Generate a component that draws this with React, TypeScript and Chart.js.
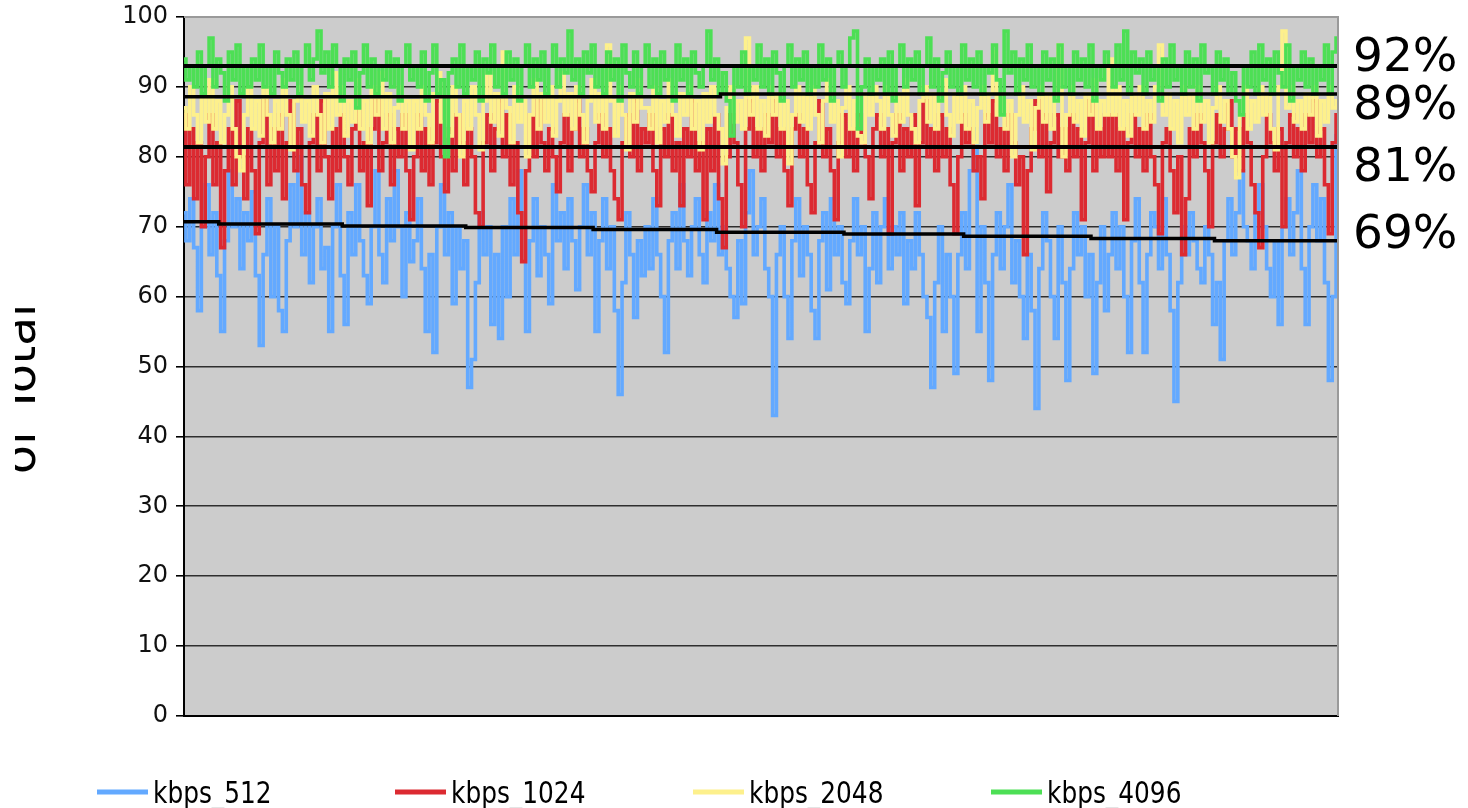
import React, { useEffect, useRef } from "react";
import { Chart, registerables } from "chart.js";

Chart.register(...registerables);

// ---- data ----
const SERIES_NAMES = ["kbps_512", "kbps_1024", "kbps_2048", "kbps_4096"];

const KBPS_512 = [
  72, 68, 74, 67, 58, 70, 76, 66, 72, 63,
  55, 68, 78, 70, 74, 64, 72, 68, 75, 63,
  53, 66, 74, 60, 70, 58, 55, 68, 76, 70,
  80, 66, 72, 62, 70, 74, 64, 67, 55, 70,
  76, 63, 56, 72, 66, 76, 68, 63, 59, 70,
  78, 66, 62, 74, 68, 78, 70, 60, 72, 65,
  68, 74, 64, 55, 66, 52, 70, 76, 66, 72,
  59, 70, 64, 68, 47, 51, 62, 72, 66, 70,
  56, 66, 54, 70, 60, 74, 66, 78, 70, 55,
  68, 74, 63, 70, 66, 59, 76, 68, 72, 64,
  74, 68, 61, 70, 76, 66, 72, 55, 68, 74,
  64, 70, 58, 46, 62, 72, 66, 57, 68, 63,
  70, 64, 74, 66, 60, 52, 68, 72, 64, 76,
  68, 63, 70, 74, 66, 62, 72, 68, 76, 66,
  70, 64, 60, 57, 68, 59, 72, 78, 66, 70,
  74, 64, 60, 43, 66, 70, 60, 54, 68, 74,
  63, 70, 66, 58, 54, 68, 72, 61, 74, 66,
  70, 62, 59, 68, 74, 66, 70, 55, 64, 72,
  62, 70, 74, 64, 70, 66, 72, 59, 68, 64,
  72, 66, 60, 57, 47, 62, 70, 55, 66, 60,
  49, 66, 72, 64, 78, 84, 55, 70, 62, 48,
  66, 72, 64, 70, 76, 62, 68, 60, 54, 66,
  58, 44, 64, 72, 68, 60, 54, 70, 62, 48,
  64, 72, 66, 70, 60, 66, 49, 62, 70, 58,
  66, 72, 64, 70, 60, 52, 68, 74, 62, 52,
  66, 72, 70, 64, 74, 66, 58, 45, 62, 70,
  66, 72, 68, 64, 62, 70, 66, 56, 62, 51,
  68, 74, 66, 72, 78, 70, 68, 64, 72, 76,
  70, 64, 60, 68, 56, 70, 74, 66, 72, 78,
  64, 56, 70, 76, 68, 74, 62, 48, 60, 83,
];

const KBPS_1024 = [
  86, 76, 84, 74, 82, 70, 80, 86, 76, 82,
  67, 78, 84, 76, 88, 80, 74, 84, 78, 69,
  82, 88, 76, 84, 78, 86, 74, 82, 88, 78,
  84, 76, 72, 82, 86, 78, 88, 80, 74, 84,
  78, 86, 80, 76, 84, 88, 78, 82, 73, 84,
  88, 78, 82, 86, 76, 84, 80, 86, 78, 71,
  80, 86, 78, 84, 76, 82, 88, 80, 75, 84,
  78, 86, 82, 76, 84, 80, 72, 70, 82, 86,
  78, 84, 88, 80, 86, 76, 82, 72, 65, 78,
  86, 80, 88, 82, 78, 84, 80, 75, 82, 86,
  78, 84, 88, 80, 84, 78, 75, 82, 86, 80,
  84, 78, 74, 71, 82, 86, 80, 88, 78, 84,
  82, 86, 78, 73, 84, 80, 86, 78, 82, 73,
  84, 80, 88, 78, 82, 71, 84, 78, 86, 74,
  67, 80, 86, 82, 76, 70, 84, 88, 80, 84,
  78, 86, 82, 88, 80, 84, 78, 73, 84, 86,
  80, 84, 76, 72, 82, 88, 80, 84, 78, 71,
  82, 86, 80, 84, 78, 86, 82, 80, 74, 84,
  86, 80, 84, 69, 82, 86, 78, 84, 80, 86,
  73, 82, 88, 80, 84, 78, 86, 80, 84, 76,
  69, 80, 86, 82, 84, 78, 80, 74, 86, 82,
  88, 80, 84, 78, 86, 82, 76, 80, 66, 78,
  84, 88, 80, 86, 75, 82, 86, 80, 84, 78,
  86, 80, 84, 71, 82, 88, 78, 84, 80, 86,
  80, 86, 78, 84, 71, 82, 86, 80, 84, 78,
  86, 80, 76, 69, 82, 84, 78, 72, 80, 66,
  74, 84, 80, 86, 82, 78, 70, 82, 86, 80,
  84, 88, 80, 84, 78, 86, 82, 76, 72, 67,
  80, 86, 82, 78, 84, 70, 82, 86, 80, 84,
  78, 86, 82, 88, 80, 84, 76, 69, 82, 86,
];

const KBPS_2048 = [
  87, 84, 90, 86, 82, 89, 85, 91, 84, 88,
  82, 86, 90, 84, 80, 78, 86, 90, 84, 88,
  83, 90, 86, 82, 88, 84, 91, 86, 81, 88,
  90, 85, 88, 83, 90, 86, 82, 89, 84, 92,
  86, 90, 83, 88, 85, 91, 84, 88, 82, 90,
  86, 92, 84, 89, 82, 87, 90, 84, 88, 81,
  88, 84, 90, 86, 82, 89, 92, 85, 88, 83,
  90, 86, 80, 88, 84, 90, 86, 81, 88, 92,
  85, 89, 83, 95, 87, 82, 90, 85, 88, 80,
  86, 91, 84, 89, 85, 90, 83, 88, 92, 86,
  89, 84, 90, 86, 82, 88, 91, 85, 89, 84,
  96, 88, 83, 90, 86, 81, 89, 85, 91, 87,
  87, 84, 90, 82, 88, 85, 91, 86, 83, 89,
  86, 90, 84, 88, 81, 89, 85, 90, 86, 84,
  79, 87, 90, 85, 88, 84, 97, 86, 90, 84,
  88, 83, 90, 86, 89, 84, 88, 79, 86, 90,
  85, 89, 84, 90, 86, 82, 88, 91, 85, 88,
  80, 87, 90, 84, 88, 83, 82, 89, 86, 90,
  88, 84, 90, 86, 83, 89, 85, 91, 86, 84,
  82, 88, 90, 85, 89, 84, 88, 91, 86, 83,
  89, 85, 90, 84, 88, 82, 87, 90, 85, 89,
  95, 86, 89, 84, 88, 80, 86, 90, 85, 88,
  81, 87, 90, 85, 89, 84, 88, 96, 80, 86,
  90, 85, 88, 83, 89, 86, 91, 84, 88, 86,
  94, 86, 90, 84, 88, 83, 89, 86, 90, 84,
  88, 85, 90, 96, 86, 89, 84, 88, 82, 90,
  86, 89, 84, 90, 85, 88, 82, 87, 90, 85,
  88, 84, 80, 77, 86, 90, 84, 88, 85, 90,
  86, 89, 84, 81, 90, 98, 87, 90, 85, 88,
  84, 89, 86, 90, 83, 88, 85, 90, 87, 88,
];

const KBPS_4096 = [
  94, 91, 93, 90, 95, 89, 93, 97, 90, 94,
  92, 88, 95, 91, 96, 89, 93, 90, 94, 91,
  96, 90, 93, 89, 95, 92, 90, 94, 91, 95,
  89, 93, 96, 91, 94, 98, 92, 95, 90, 96,
  93, 88, 94, 91, 95, 87, 92, 96, 90, 94,
  89, 93, 91, 95, 90, 94, 88, 93, 96, 91,
  93, 90, 95, 88, 92, 96, 89, 91, 80, 92,
  94, 90, 96, 89, 93, 91, 95, 88, 94, 92,
  96, 90, 93, 89, 95, 91, 94, 88, 93, 96,
  90, 94, 91, 95, 89, 93, 96, 90, 94, 92,
  98, 91, 94, 89, 95, 92, 96, 90, 93, 89,
  95, 91, 94, 88, 96, 92, 90, 95, 89, 93,
  96, 90, 94, 89, 95, 91, 93, 88, 96, 91,
  94, 89, 95, 92, 90, 93, 98, 91, 94, 89,
  92, 88, 83, 93, 90, 95, 89, 93, 91, 96,
  90, 94, 89, 95, 92, 88, 93, 96, 90, 94,
  91, 95, 89, 93, 90, 96, 91, 94, 88, 93,
  95, 90, 93, 97, 98, 84, 90, 94, 89, 93,
  91, 94, 89, 95, 88, 93, 96, 90, 94, 91,
  95, 89, 93, 97, 90, 94, 88, 92, 95, 90,
  93, 89, 96, 91, 94, 90, 95, 89, 93, 92,
  96, 91, 86, 98, 92, 95, 89, 94, 91, 96,
  90, 93, 89, 95, 91, 94, 88, 96, 90, 93,
  89, 95, 91, 94, 90, 96, 88, 93, 91, 95,
  93, 90, 96, 91, 98, 89, 95, 92, 94, 89,
  95, 91, 93, 88, 94, 90, 96, 91, 93, 89,
  95, 90, 94, 88, 96, 92, 93, 89, 95, 91,
  94, 89, 92, 88, 86, 93, 90, 95, 89, 96,
  91, 94, 89, 95, 92, 90, 96, 88, 93, 91,
  95, 90, 94, 89, 93, 91, 96, 89, 95, 97,
];

// running averages: index where each level starts, and the level
const AVG_512_START = [0, 9, 41, 73, 106, 138, 171, 202, 235, 267];
const AVG_512_VALUE = [70.7, 70.4, 70.1, 69.9, 69.6, 69.2, 68.95, 68.65, 68.3, 68.0];
const AVG_1024_START = [0];
const AVG_1024_VALUE = [81.4];
const AVG_2048_START = [0, 139];
const AVG_2048_VALUE = [88.6, 89.0];
const AVG_4096_START = [0];
const AVG_4096_VALUE = [93.0];

const SIDE_LABELS = ["92%", "89%", "81%", "69%"];
const Y_TICKS_MIN = 0;
const Y_TICKS_MAX = 100;
const Y_STEP = 10;
const Y_TITLE = "of Total";

const COLORS = ["#63a9ff", "#dc2a31", "#fdf08c", "#4ddf55"];

function toPoints(values: number[]) {
  return values.map((v, i) => ({ x: i, y: v }));
}
function avgPoints(starts: number[], values: number[], lastIndex: number) {
  const pts = starts.map((s, i) => ({ x: s, y: values[i] }));
  pts.push({ x: lastIndex, y: values[values.length - 1] });
  return pts;
}

const decorPlugin = {
  id: "decor",
  beforeDraw(chart: any) {
    const { ctx, chartArea: a } = chart;
    ctx.save();
    ctx.fillStyle = "#cccccc";
    ctx.fillRect(a.left, a.top, a.right - a.left, a.bottom - a.top);
    ctx.restore();
  },
  afterDraw(chart: any) {
    const { ctx, chartArea: a } = chart;
    ctx.save();
    // right & top frame
    ctx.strokeStyle = "#9a9a9a";
    ctx.lineWidth = 2;
    ctx.beginPath();
    ctx.moveTo(a.left, a.top);
    ctx.lineTo(a.right, a.top);
    ctx.lineTo(a.right, a.bottom);
    ctx.stroke();

    // side percentage labels
    ctx.fillStyle = "#000";
    ctx.font = "47px 'DejaVu Sans'";
    ctx.textAlign = "left";
    ctx.textBaseline = "alphabetic";
    const baselines = [71, 119, 181, 248];
    SIDE_LABELS.forEach((t, i) => ctx.fillText(t, 1353, baselines[i]));

    // y-axis title (clipped at the left, as in the reference)
    ctx.save();
    ctx.beginPath();
    ctx.rect(15, 0, 60, 808);
    ctx.clip();
    ctx.translate(35, 389);
    ctx.rotate(-Math.PI / 2);
    ctx.textAlign = "center";
    ctx.font = "47px 'DejaVu Sans'";
    ctx.fillText(Y_TITLE, 0, 0);
    ctx.restore();

    // legend at bottom
    const lx = [97, 395, 693, 991];
    SERIES_NAMES.forEach((name, i) => {
      ctx.strokeStyle = COLORS[i];
      ctx.lineWidth = 5;
      ctx.beginPath();
      ctx.moveTo(lx[i], 792);
      ctx.lineTo(lx[i] + 51, 792);
      ctx.stroke();
      ctx.save();
      ctx.translate(lx[i] + 56, 803);
      ctx.scale(0.92, 1);
      ctx.fillStyle = "#000";
      ctx.font = "30px 'DejaVu Sans Condensed', 'DejaVu Sans', sans-serif";
      ctx.textAlign = "left";
      ctx.fillText(name, 0, 0);
      ctx.restore();
    });
    ctx.restore();
  },
};

export default function App() {
  const ref = useRef<HTMLCanvasElement | null>(null);

  useEffect(() => {
    if (!ref.current) return;
    const last = KBPS_512.length - 1;
    const series = [KBPS_512, KBPS_1024, KBPS_2048, KBPS_4096];
    const drawOrder = [4, 3, 2, 1];
    const datasets: any[] = series.map((vals, i) => ({
      label: SERIES_NAMES[i],
      data: toPoints(vals),
      borderColor: COLORS[i],
      backgroundColor: COLORS[i],
      borderWidth: 3.6,
      borderCapStyle: "butt",
      borderJoinStyle: "miter",
      pointRadius: 0,
      stepped: "middle",
      order: drawOrder[i],
    }));
    const avgs = [
      [AVG_512_START, AVG_512_VALUE, 3.5],
      [AVG_1024_START, AVG_1024_VALUE, 4],
      [AVG_2048_START, AVG_2048_VALUE, 3.5],
      [AVG_4096_START, AVG_4096_VALUE, 4],
    ] as const;
    avgs.forEach(([s, v, w], i) => {
      datasets.push({
        label: "avg " + SERIES_NAMES[i],
        data: avgPoints(s as number[], v as number[], last),
        borderColor: "#000",
        borderWidth: w,
        pointRadius: 0,
        stepped: true,
        order: 0,
      });
    });

    const chart = new Chart(ref.current, {
      type: "line",
      data: { datasets },
      options: {
        animation: false,
        responsive: false,
        devicePixelRatio: 1,
        layout: { padding: { left: 0, right: 130, top: 12, bottom: 92 } },
        plugins: { legend: { display: false }, tooltip: { enabled: false } },
        scales: {
          x: {
            type: "linear",
            min: 0,
            max: last,
            ticks: { display: false },
            grid: { display: false, drawTicks: false },
            border: { display: true, color: "#000", width: 2 },
            afterFit: (s: any) => {
              s.height = 0;
            },
          },
          y: {
            min: Y_TICKS_MIN,
            max: Y_TICKS_MAX,
            ticks: {
              stepSize: Y_STEP,
              color: "#111",
              padding: 8,
              font: { family: "'DejaVu Sans'", size: 24, lineHeight: 0.75 },
            },
            grid: {
              color: (c: any) => (c.tick && c.tick.value === 100 ? "#a8a8a8" : "#2e2e2e"),
              lineWidth: 1.6,
              drawTicks: true,
              tickLength: 8,
              tickColor: "#000",
            },
            border: { display: true, color: "#000", width: 2 },
            afterFit: (s: any) => {
              s.width = 184;
            },
          },
        },
      },
      plugins: [decorPlugin],
    });
    return () => chart.destroy();
  }, []);

  return (
    <div style={{ position: "fixed", left: 0, top: 0, width: 1468, height: 808, background: "#fff" }}>
      <canvas ref={ref} width={1468} height={808} style={{ display: "block" }} />
    </div>
  );
}
